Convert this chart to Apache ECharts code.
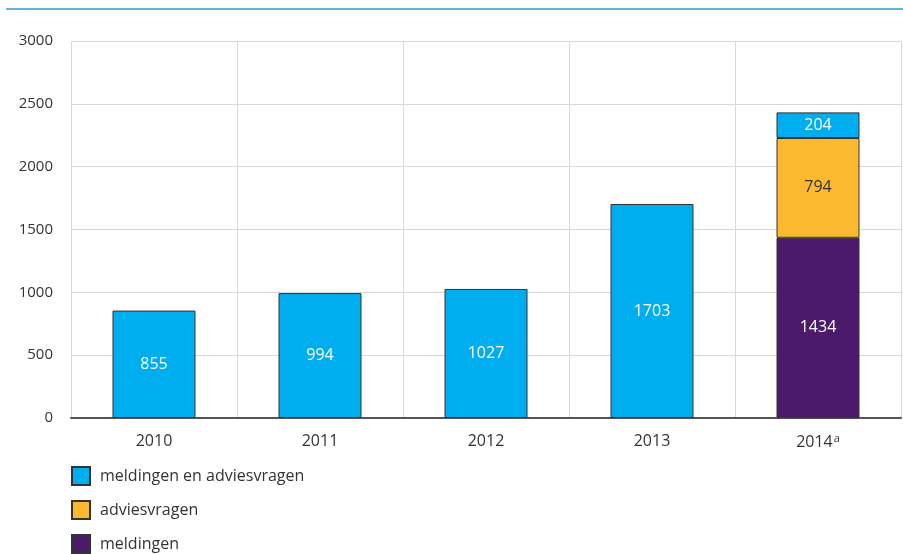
<!DOCTYPE html>
<html><head><meta charset="utf-8">
<script src="https://cdn.jsdelivr.net/npm/echarts@6/dist/echarts.min.js"></script>
<style>html,body{margin:0;padding:0;background:#fff}#c{width:903px;height:554px}</style>
</head><body><div id="c"></div>
<script>
const categories = ['2010', '2011', '2012', '2013', '2014ᵃ'];
const meldingenEnAdviesvragen = [855, 994, 1027, 1703, 204];
const adviesvragen = [null, null, null, null, 794];
const meldingen = [null, null, null, null, 1434];
const yTicks = [0, 500, 1000, 1500, 2000, 2500, 3000];

const font = 'Open Sans';
const chart = echarts.init(document.getElementById('c'));
const lbl = (color) => ({show: true, position: 'inside', color: color, fontSize: 16, fontFamily: font,
  formatter: p => p.value == null ? '' : String(p.value)});
chart.setOption({
  animation: false,
  graphic: [{type: 'rect', shape: {x: 6, y: 8, width: 897, height: 2}, style: {fill: '#5fb4e0'}}],
  grid: {left: 71, right: 2, top: 41, bottom: 136},
  legend: {
    data: ['meldingen en adviesvragen', 'adviesvragen', 'meldingen'],
    orient: 'vertical', left: 66, top: 461, height: 100, itemGap: 14, itemWidth: 18, itemHeight: 18,
    textStyle: {fontSize: 16, fontFamily: font, color: '#333', padding: [0, 0, 0, 5]},
    icon: 'rect'
  },
  xAxis: {
    type: 'category', data: categories,
    axisLine: {lineStyle: {color: '#555', width: 2}},
    axisTick: {alignWithLabel: true, length: 6, lineStyle: {color: '#333'}},
    splitLine: {show: true, lineStyle: {color: '#d9d9d9'}},
    axisLabel: {fontSize: 16, fontFamily: font, color: '#333', margin: 15,
      formatter: v => v.replace('ᵃ', '{s|a}'),
      rich: {s: {fontSize: 11, fontFamily: font, color: '#333', padding: [0, 0, 8, 1]}}}
  },
  yAxis: {
    type: 'value', min: 0, max: 3000, interval: 500,
    axisLine: {show: false}, axisTick: {show: false},
    splitLine: {lineStyle: {color: '#d9d9d9'}},
    axisLabel: {fontSize: 15, fontFamily: font, color: '#333', margin: 18,
      formatter: v => yTicks.includes(v) ? String(v) : ''}
  },
  series: [
    {name: 'meldingen', type: 'bar', stack: 's', data: meldingen, barWidth: '50%',
      itemStyle: {color: '#4b1a6b', borderColor: '#333', borderWidth: 1}, label: lbl('#fff')},
    {name: 'adviesvragen', type: 'bar', stack: 's', data: adviesvragen, barWidth: '50%',
      itemStyle: {color: '#fbb92f', borderColor: '#333', borderWidth: 1}, label: lbl('#333')},
    {name: 'meldingen en adviesvragen', type: 'bar', stack: 's', data: meldingenEnAdviesvragen, barWidth: '50%',
      itemStyle: {color: '#00adee', borderColor: '#333', borderWidth: 1}, label: lbl('#fff')}
  ]
});
</script></body></html>
